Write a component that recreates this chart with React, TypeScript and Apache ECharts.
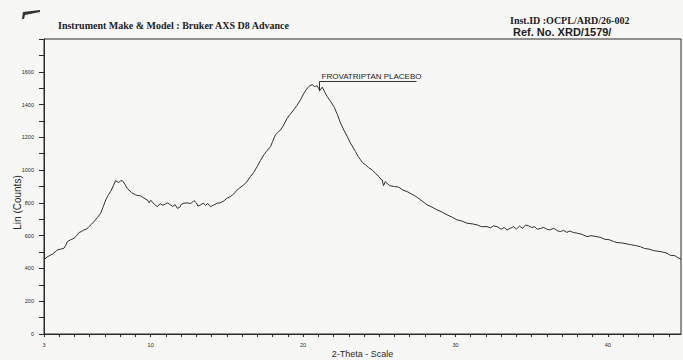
import React, { useEffect, useRef } from "react";
import * as echarts from "echarts";

const twoTheta: number[] = [
  3.0, 3.2, 3.44, 3.6, 3.88, 4.1, 4.31, 4.45, 4.53, 4.75, 4.97, 5.15, 5.3, 5.45, 5.62, 5.8, 5.95, 6.1, 6.28, 6.5,
  6.72, 6.9, 7.05, 7.2, 7.37, 7.55, 7.7, 7.8, 7.92, 8.03, 8.14, 8.3, 8.45, 8.57, 8.75, 9.01, 9.15, 9.34, 9.55, 9.78,
  9.9, 10.0, 10.1, 10.25, 10.44, 10.55, 10.65, 10.8, 10.98, 11.1, 11.3, 11.45, 11.6, 11.75, 11.9, 12.0, 12.18, 12.4, 12.62, 12.75,
  12.84, 13.0, 13.1, 13.28, 13.45, 13.6, 13.75, 13.93, 14.1, 14.37, 14.55, 14.8, 15.0, 15.24, 15.45, 15.68, 15.85, 16.11, 16.3, 16.55,
  16.75, 16.99, 17.2, 17.43, 17.6, 17.87, 18.0, 18.19, 18.35, 18.52, 18.7, 18.96, 19.15, 19.39, 19.6, 19.83, 20.05, 20.27, 20.45, 20.6,
  20.75, 20.93, 21.1, 21.26, 21.4, 21.58, 21.8, 22.02, 22.25, 22.46, 22.7, 22.9, 23.11, 23.3, 23.44, 23.6, 23.77, 23.9, 24.1, 24.3,
  24.53, 24.75, 24.97, 25.1, 25.19, 25.28, 25.4, 25.55, 25.73, 26.0, 26.28, 26.55, 26.83, 27.1, 27.3, 27.48, 27.8, 28.14, 28.45, 28.8,
  29.1, 29.45, 29.8, 30.11, 30.4, 30.76, 31.1, 31.42, 31.7, 32.07, 32.3, 32.5, 32.73, 33.0, 33.2, 33.39, 33.6, 33.82, 34.0, 34.2,
  34.4, 34.6, 34.8, 35.0, 35.2, 35.36, 35.6, 35.8, 36.01, 36.2, 36.45, 36.7, 36.88, 37.1, 37.3, 37.5, 37.75, 38.0, 38.3, 38.63,
  38.9, 39.2, 39.5, 39.8, 40.1, 40.38, 40.6, 40.9, 41.25, 41.5, 41.8, 42.13, 42.4, 42.7, 43.0, 43.3, 43.6, 43.88, 44.1, 44.4,
  44.6, 44.8,
];

const counts: number[] = [
  452, 470, 482, 490, 513, 518, 523, 545, 564, 575, 584, 600, 619, 625, 635, 640, 655, 668, 686, 710,
  737, 780, 818, 845, 869, 905, 936, 930, 924, 935, 936, 915, 890, 879, 862, 849, 845, 843, 830, 818,
  800, 815, 808, 790, 777, 790, 794, 785, 794, 800, 788, 778, 790, 767, 772, 790, 798, 800, 796, 805,
  814, 800, 780, 788, 798, 786, 796, 777, 785, 798, 800, 812, 828, 839, 855, 879, 892, 910, 928, 961,
  985, 1022, 1058, 1093, 1115, 1144, 1175, 1215, 1230, 1246, 1270, 1317, 1340, 1368, 1395, 1429, 1468, 1500, 1515, 1521,
  1510, 1514, 1486, 1506, 1480, 1449, 1420, 1388, 1340, 1287, 1240, 1205, 1165, 1135, 1113, 1085, 1063, 1045, 1032, 1015,
  1002, 980, 961, 945, 940, 905, 930, 915, 904, 900, 896, 878, 869, 855, 845, 834, 812, 788, 775, 757,
  745, 727, 712, 696, 690, 676, 672, 666, 655, 655, 648, 660, 655, 639, 650, 635, 645, 655, 640, 658,
  645, 665, 660, 650, 655, 639, 645, 650, 639, 635, 645, 630, 625, 632, 620, 628, 619, 615, 608, 594,
  600, 595, 590, 578, 575, 564, 558, 556, 550, 545, 540, 533, 522, 518, 509, 505, 500, 493, 480, 478,
  465, 456,
];

const xLabels: number[] = [3, 10, 20, 30, 40];
const yLabels: number[] = [0, 200, 400, 600, 800, 1000, 1200, 1400, 1600];

const titleText = "Instrument Make & Model : Bruker AXS D8 Advance";
const instText = "Inst.ID :OCPL/ARD/26-002";
const refText = "Ref. No. XRD/1579/";
const sampleText = "FROVATRIPTAN PLACEBO";
const yAxisTitle = "Lin (Counts)";
const peakTheta = 21.05;
const peakCounts = 1500;

export default function App() {
  const ref = useRef<HTMLDivElement>(null);
  useEffect(() => {
    if (!ref.current) return;
    const chart = echarts.init(ref.current, undefined, { renderer: "svg" });
    const data = twoTheta.map((t, i) => [t, counts[i]]);
    const ink = "#2a2a2a";
    chart.setOption({
      animation: false,
      backgroundColor: "#f7f7f5",
      grid: {
        left: 44,
        right: 2,
        top: 39,
        bottom: 26,
        outerBoundsMode: "none",
        containLabel: false,
        show: true,
        borderColor: ink,
        borderWidth: 1,
        backgroundColor: "transparent",
      },
      xAxis: {
        type: "value",
        min: 3,
        max: 44.8,
        interval: 1,
        name: "2-Theta - Scale",
        nameLocation: "middle",
        nameGap: 15,
        nameMoveOverlap: false,
        nameTextStyle: { fontFamily: "Liberation Sans, Arial", fontSize: 9, color: ink },
        axisLine: { lineStyle: { color: ink, width: 1 } },
        axisTick: { length: 3, lineStyle: { color: ink } },
        axisLabel: {
          fontSize: 5.5,
          fontFamily: "Liberation Sans, Arial",
          color: ink,
          margin: 8,
          showMaxLabel: false,
          formatter: (v: number) => (xLabels.includes(Math.round(v)) && Math.abs(v - Math.round(v)) < 1e-6 ? String(Math.round(v)) : ""),
        },
        splitLine: { show: false },
      },
      yAxis: {
        type: "value",
        min: 0,
        max: 1800,
        interval: 100,
        name: yAxisTitle,
        nameLocation: "middle",
        nameGap: 22,
        nameMoveOverlap: false,
        nameRotate: 90,
        nameTextStyle: { fontFamily: "Liberation Sans, Arial", fontSize: 10, color: ink, padding: [0, 32, 0, 0] },
        axisLine: { show: true, lineStyle: { color: ink, width: 1 } },
        axisTick: { show: true, length: 5, lineStyle: { color: ink } },
        axisLabel: {
          fontSize: 5.5,
          fontFamily: "Liberation Sans, Arial",
          color: ink,
          margin: 10,
          formatter: (v: number) => (yLabels.includes(v) ? String(v) : ""),
        },
        splitLine: { show: false },
      },
      series: [
        {
          type: "line",
          data,
          showSymbol: false,
          symbol: "none",
          lineStyle: { color: "#303030", width: 1 },
          silent: true,
        },
      ],
    });
    const p = chart.convertToPixel({ gridIndex: 0 }, [peakTheta, peakCounts]) as number[];
    const px = Math.round(p[0]) + 0.5;
    chart.setOption({
      graphic: [
        {
          type: "text",
          left: 58,
          top: 20,
          style: { text: titleText, font: "bold 10px 'Liberation Serif', 'Times New Roman', serif", fill: "#222" },
        },
        {
          type: "text",
          left: 510,
          top: 15,
          style: { text: instText, font: "bold 10px 'Liberation Serif', 'Times New Roman', serif", fill: "#222" },
        },
        {
          type: "text",
          left: 513,
          top: 26,
          style: { text: refText, font: "bold 11px 'Liberation Sans', Arial, sans-serif", fill: "#222" },
        },
        {
          type: "text",
          x: px + 2,
          y: 80.5,
          style: {
            text: sampleText,
            font: "8px 'Liberation Sans', Arial, sans-serif",
            fill: "#222",
            textVerticalAlign: "bottom",
          },
        },
        {
          type: "line",
          shape: { x1: px, y1: 81.5, x2: px + 97, y2: 81.5 },
          style: { stroke: "#333", lineWidth: 1 },
        },
        {
          type: "line",
          shape: { x1: px, y1: 81.5, x2: px, y2: p[1] + 3 },
          style: { stroke: "#333", lineWidth: 1 },
        },
        {
          type: "polygon",
          shape: { points: [[22, 19], [23, 12], [40, 10], [40, 12], [25, 15], [24, 19]] },
          style: { fill: "#333" },
        },
      ],
    });
    return () => chart.dispose();
  }, []);
  return <div ref={ref} style={{ position: "fixed", left: 0, top: 0, width: 683, height: 360 }} />;
}
